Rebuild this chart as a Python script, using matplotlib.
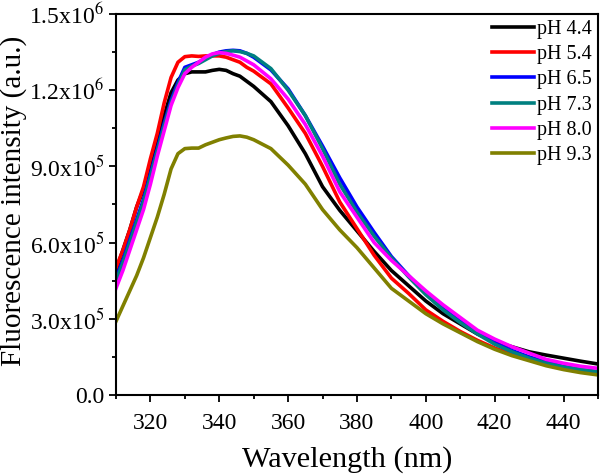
import matplotlib
matplotlib.use("Agg")
import matplotlib.pyplot as plt
from matplotlib.ticker import MultipleLocator, FuncFormatter
import numpy as np

plt.rcParams["font.family"] = ["Liberation Serif", "DejaVu Serif"]
plt.rcParams["mathtext.fontset"] = "stix"

# wavelength (nm)
wl = [310, 312, 314, 316, 318, 320, 322, 324, 326, 328, 330, 332, 334, 336, 338,
      340, 342, 344, 346, 348, 350, 355, 360, 365, 370, 375, 380, 385, 390, 395,
      400, 405, 410, 415, 420, 425, 430, 435, 440, 445, 450]

# intensities in units of 1e6
ph44 = [0.49, 0.57, 0.65, 0.74, 0.81, 0.91, 1.01, 1.10, 1.19, 1.24, 1.265, 1.272, 1.272, 1.272, 1.278,
        1.282, 1.278, 1.265, 1.255, 1.235, 1.215, 1.155, 1.06, 0.95, 0.82, 0.727, 0.646, 0.565, 0.49, 0.43,
        0.37, 0.32, 0.28, 0.24, 0.21, 0.19, 0.17, 0.157, 0.145, 0.133, 0.122]
ph54 = [0.50, 0.57, 0.65, 0.74, 0.82, 0.93, 1.03, 1.15, 1.25, 1.31, 1.332, 1.335, 1.333, 1.335, 1.335,
        1.335, 1.33, 1.32, 1.31, 1.29, 1.275, 1.225, 1.13, 1.03, 0.90, 0.76, 0.655, 0.55, 0.46, 0.40,
        0.335, 0.29, 0.25, 0.215, 0.185, 0.16, 0.14, 0.12, 0.105, 0.093, 0.083]
ph65 = [0.46, 0.53, 0.61, 0.69, 0.77, 0.87, 0.97, 1.07, 1.16, 1.23, 1.29, 1.30, 1.31, 1.325, 1.34,
        1.35, 1.355, 1.357, 1.355, 1.345, 1.33, 1.28, 1.205, 1.10, 0.98, 0.855, 0.74, 0.64, 0.545, 0.47,
        0.40, 0.34, 0.29, 0.245, 0.205, 0.175, 0.15, 0.13, 0.112, 0.10, 0.09]
ph73 = [0.45, 0.52, 0.60, 0.68, 0.76, 0.86, 0.96, 1.06, 1.15, 1.22, 1.28, 1.295, 1.305, 1.32, 1.335,
        1.345, 1.352, 1.355, 1.352, 1.345, 1.335, 1.285, 1.20, 1.10, 0.97, 0.83, 0.72, 0.625, 0.54, 0.465,
        0.395, 0.335, 0.285, 0.24, 0.20, 0.17, 0.145, 0.125, 0.11, 0.10, 0.092]
ph80 = [0.42, 0.49, 0.57, 0.65, 0.73, 0.83, 0.94, 1.04, 1.14, 1.21, 1.265, 1.29, 1.31, 1.33, 1.343,
        1.348, 1.345, 1.338, 1.33, 1.315, 1.30, 1.245, 1.165, 1.065, 0.94, 0.80, 0.70, 0.60, 0.53, 0.47,
        0.41, 0.355, 0.305, 0.255, 0.22, 0.19, 0.165, 0.14, 0.125, 0.113, 0.105]
ph93 = [0.29, 0.35, 0.41, 0.47, 0.54, 0.62, 0.70, 0.79, 0.89, 0.95, 0.97, 0.972, 0.972, 0.985, 0.995,
        1.005, 1.012, 1.018, 1.02, 1.015, 1.005, 0.97, 0.905, 0.83, 0.73, 0.65, 0.58, 0.50, 0.42, 0.37,
        0.32, 0.28, 0.245, 0.21, 0.18, 0.155, 0.135, 0.115, 0.10, 0.088, 0.079]

labels = ["pH 4.4", "pH 5.4", "pH 6.5", "pH 7.3", "pH 8.0", "pH 9.3"]
colors = ["#000000", "#ff0000", "#0000ff", "#008080", "#ff00ff", "#808000"]
series = [ph44, ph54, ph65, ph73, ph80, ph93]

fig = plt.figure(figsize=(6, 4.76), dpi=100)
ax = fig.add_axes([0.1933, 0.1702, 0.8033, 0.8004])

for y, c, lab in zip(series, colors, labels):
    ax.plot(wl, np.array(y) * 1e6, color=c, lw=2.6, label=lab)

ax.set_xlim(310, 450)
ax.set_ylim(0, 1.5e6)
ax.xaxis.set_major_locator(MultipleLocator(20))
ax.xaxis.set_minor_locator(MultipleLocator(10))
ax.yaxis.set_major_locator(MultipleLocator(3e5))
ax.yaxis.set_minor_locator(MultipleLocator(1.5e5))


def fmt(v, pos):
    if v <= 0:
        return "0.0"
    e = int(np.floor(np.log10(v)))
    return r"%.1fx10$^{%d}$" % (v / 10 ** e, e)


ax.yaxis.set_major_formatter(FuncFormatter(fmt))
ax.tick_params(which="both", direction="out", width=1.3, labelsize=17, top=False, right=False)
ax.tick_params(which="major", length=5)
ax.tick_params(which="minor", length=3)
ax.tick_params(axis="x", which="major", pad=8)
for s in ax.spines.values():
    s.set_linewidth(1.5)

ax.set_xlabel("Wavelength (nm)", fontsize=21.8)
ax.set_ylabel("Fluorescence intensity (a.u.)", fontsize=21)
ax.xaxis.set_label_coords(0.48, -0.133)
ax.yaxis.set_label_coords(-0.184, 0.51)

ax.legend(loc="upper right", frameon=False, fontsize=14.5, handlelength=2.1,
          handletextpad=0.15, labelspacing=0.3, borderaxespad=0.1, borderpad=0.2)

fig.savefig("out.png", dpi=100)
